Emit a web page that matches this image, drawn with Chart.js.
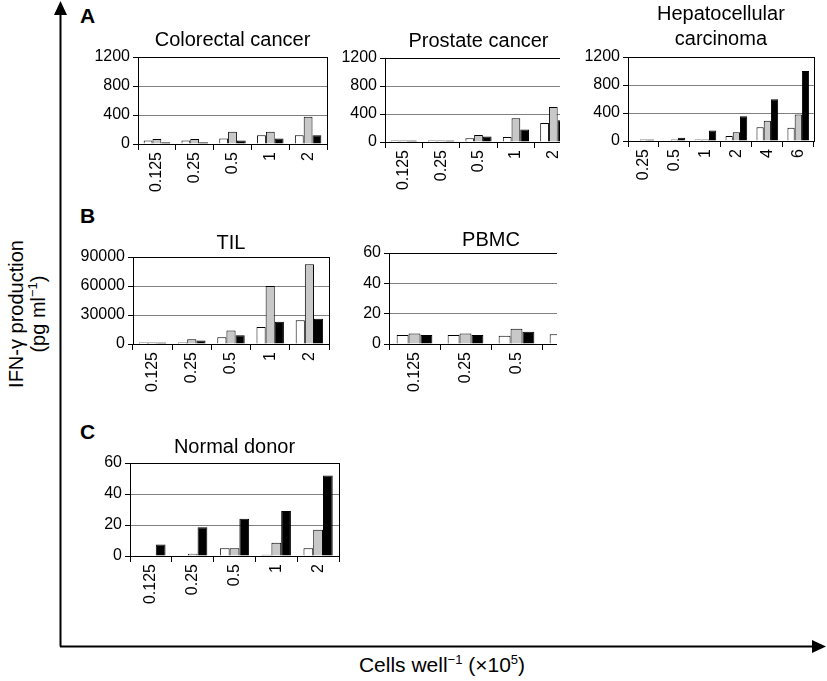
<!DOCTYPE html>
<html>
<head>
<meta charset="utf-8">
<script src="https://cdn.jsdelivr.net/npm/chart.js@4"></script>
<style>
  body { margin: 0; background: #fff; font-family: "Liberation Sans", Arial, sans-serif; }
  #page { position: relative; width: 827px; height: 681px; overflow: hidden; }
  .panel { position: absolute; overflow: hidden; }
  .letter { position: absolute; font-weight: bold; font-size: 21px; color: #000; }
  #ylabel { position: absolute; left: 27px; top: 314px; width: 260px; transform: translate(-50%, -50%) rotate(-90deg);
            text-align: center; font-size: 20px; line-height: 22px; color: #000; }
  #xlabel { position: absolute; left: 442px; top: 665px; transform: translate(-50%, -50%); font-size: 21px; color: #000; white-space: nowrap; }
  sup { font-size: 13px; line-height: 0; }
</style>
</head>
<body>
<div id="page">
  <svg width="827" height="681" style="position:absolute;left:0;top:0">
    <line x1="60.5" y1="10" x2="60.5" y2="646.5" stroke="#000" stroke-width="2"/>
    <polygon points="60.5,1 54,15 67,15" fill="#000"/>
    <line x1="60" y1="646.5" x2="815" y2="646.5" stroke="#000" stroke-width="2"/>
    <polygon points="826,646.5 812,640 812,653" fill="#000"/>
  </svg>

  <div class="letter" style="left:80px;top:4px">A</div>
  <div class="letter" style="left:80px;top:204px">B</div>
  <div class="letter" style="left:80px;top:420px">C</div>

  <div class="panel" style="left:80px;top:28px;width:250px;height:166px"><canvas id="colorectal" width="250" height="166"></canvas></div>
  <div class="panel" style="left:330px;top:29px;width:230px;height:163px"><canvas id="prostate" width="245" height="163"></canvas></div>
  <div class="panel" style="left:560px;top:0px;width:260px;height:191px"><canvas id="hepato" width="260" height="191"></canvas></div>
  <div class="panel" style="left:75px;top:231px;width:257px;height:163px"><canvas id="til" width="257" height="163"></canvas></div>
  <div class="panel" style="left:340px;top:228px;width:217px;height:166px"><canvas id="pbmc" width="256" height="166"></canvas></div>
  <div class="panel" style="left:80px;top:435px;width:262px;height:171px"><canvas id="normal" width="262" height="171"></canvas></div>

  <div id="ylabel">IFN-γ production<br>(pg ml<sup>−1</sup>)</div>
  <div id="xlabel">Cells well<sup>−1</sup> (×10<sup>5</sup>)</div>
</div>

<script>
// cells per well (x10^5)
const cellLabels = ['0.125', '0.25', '0.5', '1', '2'];
const hepatoLabels = ['0.25', '0.5', '1', '2', '4', '6'];
const pbmcLabels = ['0.125', '0.25', '0.5', '1'];

// panel A (pg/ml), three bars per dose: white, grey, black
const colorectalWhite = [50, 50, 75, 120, 120];
const colorectalGrey = [70, 70, 170, 170, 375];
const colorectalBlack = [25, 25, 50, 75, 120];

const prostateWhite = [20, 20, 55, 70, 270];
const prostateGrey = [20, 20, 100, 340, 500];
const prostateBlack = [20, 20, 80, 180, 310];

const hepatoWhite = [0, 0, 20, 70, 195, 190];
const hepatoGrey = [20, 20, 20, 125, 290, 380];
const hepatoBlack = [20, 45, 150, 355, 595, 1000];

// panel B
const tilWhite = [1500, 1500, 7000, 17500, 24500];
const tilGrey = [1500, 5000, 14000, 60000, 82500];
const tilBlack = [1500, 3500, 9000, 23000, 26000];

const pbmcWhite = [6, 6, 5.5, 6.5];
const pbmcGrey = [7, 7, 10, 9.3];
const pbmcBlack = [6, 6, 8, 10.5];

// panel C
const normalWhite = [0, 0, 5, 0.8, 5];
const normalGrey = [0, 1.5, 5, 8.5, 17];
const normalBlack = [7.5, 18.5, 24, 29, 52];

const FONT = '"Liberation Sans", Arial, sans-serif';

// black box round the plot area
const framePlugin = {
    id: 'frame',
    afterDatasetsDraw(chart) {
        const a = chart.chartArea;
        const ctx = chart.ctx;
        ctx.save();
        ctx.strokeStyle = '#000';
        ctx.lineWidth = 1;
        ctx.strokeRect(Math.round(a.left) + 0.5, Math.round(a.top) + 0.5,
                       Math.round(a.right - a.left), Math.round(a.bottom - a.top));
        ctx.restore();
    }
};

function makePanel(id, labels, white, grey, black, cfg) {
    const bar = (data, fill) => ({ data: data, backgroundColor: fill, borderColor: '#000', borderWidth: 1 });
    return new Chart(document.getElementById(id), {
        type: 'bar',
        data: {
            labels: labels,
            datasets: [bar(white, '#ffffff'), bar(grey, '#c8c8c8'), bar(black, '#000000')]
        },
        options: {
            responsive: false,
            animation: false,
            events: [],
            layout: { padding: { top: cfg.padTop || 0, right: 3, left: 0, bottom: 0 } },
            datasets: { bar: { categoryPercentage: 0.7, barPercentage: 1 } },
            plugins: {
                legend: { display: false },
                tooltip: { enabled: false },
                title: {
                    display: true,
                    fullSize: false,
                    text: cfg.title,
                    color: '#000',
                    font: { family: FONT, size: 20, weight: 'normal', lineHeight: cfg.titleLine || 1.2 },
                    padding: { top: 0, bottom: cfg.titleGap }
                }
            },
            scales: {
                x: {
                    grid: { offset: true, drawOnChartArea: false, tickLength: 6, color: '#000' },
                    border: { color: '#000' },
                    ticks: { autoSkip: false, minRotation: 90, maxRotation: 90, padding: 2, color: '#000', font: { family: FONT, size: 16 } },
                    afterFit: s => { s.height = 50; }
                },
                y: {
                    min: 0,
                    max: cfg.max,
                    ticks: { stepSize: cfg.step, padding: 3, color: '#000', font: { family: FONT, size: 16 },
                             callback: v => String(v) },
                    grid: { color: '#808080', tickColor: '#000', tickLength: 5 },
                    border: { color: '#000' },
                    afterFit: s => { s.width = cfg.yWidth; }
                }
            }
        },
        plugins: [framePlugin]
    });
}

makePanel('colorectal', cellLabels, colorectalWhite, colorectalGrey, colorectalBlack,
    { title: 'Colorectal cancer', max: 1200, step: 400, yWidth: 58, titleGap: 5 });
makePanel('prostate', cellLabels, prostateWhite, prostateGrey, prostateBlack,
    { title: 'Prostate cancer', max: 1200, step: 400, yWidth: 55, titleGap: 5 });
makePanel('hepato', hepatoLabels, hepatoWhite, hepatoGrey, hepatoBlack,
    { title: ['Hepatocellular', 'carcinoma'], titleLine: 1.25, padTop: 2, max: 1200, step: 400, yWidth: 68, titleGap: 5 });
makePanel('til', cellLabels, tilWhite, tilGrey, tilBlack,
    { title: 'TIL', max: 90000, step: 30000, yWidth: 58, titleGap: 2 });
makePanel('pbmc', pbmcLabels, pbmcWhite, pbmcGrey, pbmcBlack,
    { title: 'PBMC', max: 60, step: 20, yWidth: 49, titleGap: 1 });
makePanel('normal', cellLabels, normalWhite, normalGrey, normalBlack,
    { title: 'Normal donor', max: 60, step: 20, yWidth: 50, titleGap: 4 });
</script>
</body>
</html>
